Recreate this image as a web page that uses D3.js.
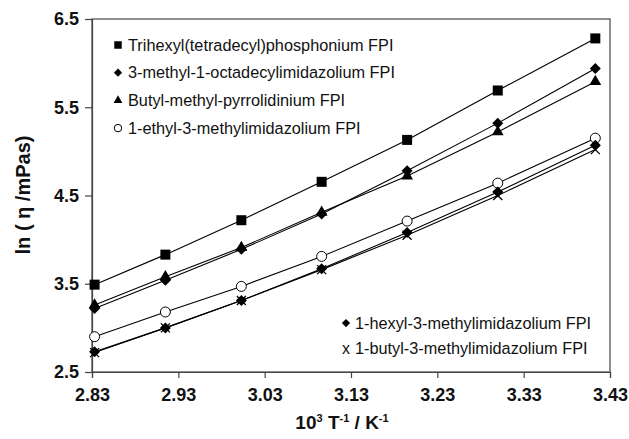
<!DOCTYPE html>
<html>
<head>
<meta charset="utf-8">
<script src="https://cdn.jsdelivr.net/npm/d3@7"></script>
<style>
  body { margin: 0; background: #fff; }
  text { font-family: "Liberation Sans", Arial, sans-serif; }
</style>
</head>
<body>
<div id="chart"></div>
<script>
// 10^3 / T for 353 ... 293 K
const invT = [2.833, 2.915, 3.003, 3.096, 3.195, 3.300, 3.413];

const seriesNames = [
  'Trihexyl(tetradecyl)phosphonium FPI',
  '3-methyl-1-octadecylimidazolium FPI',
  'Butyl-methyl-pyrrolidinium FPI',
  '1-ethyl-3-methylimidazolium FPI',
  '1-hexyl-3-methylimidazolium FPI',
  '1-butyl-3-methylimidazolium FPI'
];
const seriesMarkers = ['square', 'diamond', 'triangle', 'circle', 'diamond', 'cross'];

const phosphonium = [3.49, 3.83, 4.22, 4.655, 5.13, 5.69, 6.28];
const octadecyl   = [3.22, 3.54, 3.89, 4.29, 4.78, 5.32, 5.94];
const pyrrolidin  = [3.26, 3.58, 3.91, 4.31, 4.72, 5.22, 5.79];
const ethylmim    = [2.90, 3.18, 3.47, 3.81, 4.21, 4.64, 5.15];
const hexylmim    = [2.73, 3.00, 3.31, 3.67, 4.08, 4.54, 5.07];
const butylmim    = [2.72, 3.00, 3.31, 3.66, 4.05, 4.50, 5.02];

const xTicks = [2.83, 2.93, 3.03, 3.13, 3.23, 3.33, 3.43];
const yTicks = [2.5, 3.5, 4.5, 5.5, 6.5];

const seriesValues = [phosphonium, octadecyl, pyrrolidin, ethylmim, hexylmim, butylmim];

const width = 629, height = 439;
const margin = {top: 19, right: 19, bottom: 67, left: 92};

const svg = d3.select('#chart').append('svg')
  .attr('width', width)
  .attr('height', height);

const x = d3.scaleLinear().domain([2.83, 3.43]).range([margin.left, width - margin.right]);
const y = d3.scaleLinear().domain([2.5, 6.5]).range([height - margin.bottom, margin.top]);

// frame
svg.append('rect')
  .attr('x', x(2.83)).attr('y', y(6.5))
  .attr('width', x(3.43) - x(2.83)).attr('height', y(2.5) - y(6.5))
  .attr('fill', 'none').attr('stroke', '#444').attr('stroke-width', 1.2);

// axes
const xAxis = d3.axisBottom(x).tickValues(xTicks).tickFormat(d3.format('.2f')).tickSize(6).tickPadding(10);
const yAxis = d3.axisLeft(y).tickValues(yTicks).tickFormat(d3.format('.1f')).tickSize(7).tickPadding(6);

const xg = svg.append('g').attr('transform', `translate(0,${y(2.5)})`).call(xAxis);
const yg = svg.append('g').attr('transform', `translate(${x(2.83)},0)`).call(yAxis);
[xg, yg].forEach(g => {
  g.select('.domain').attr('stroke', '#444').attr('stroke-width', 1.2);
  g.selectAll('.tick line').attr('stroke', '#444').attr('stroke-width', 1.2);
  g.selectAll('.tick text')
    .attr('fill', '#111')
    .style('font-family', '"Liberation Sans", Arial, sans-serif')
    .style('font-size', '18px')
    .style('font-weight', 'bold');
});

// axis titles
const xt = svg.append('text')
  .attr('x', 342).attr('y', 429)
  .attr('text-anchor', 'middle')
  .style('font-size', '19px').style('font-weight', 'bold').attr('fill', '#111');
xt.append('tspan').text('10');
xt.append('tspan').attr('dy', -7).style('font-size', '11px').text('3');
xt.append('tspan').attr('dy', 7).text(' T');
xt.append('tspan').attr('dy', -7).style('font-size', '11px').text('-1');
xt.append('tspan').attr('dy', 7).text(' / K');
xt.append('tspan').attr('dy', -7).style('font-size', '11px').text('-1');

svg.append('text')
  .attr('transform', `translate(30,195) rotate(-90)`)
  .attr('text-anchor', 'middle')
  .style('font-size', '20px').style('font-weight', 'bold').attr('fill', '#111')
  .text('ln ( η /mPas)');

// marker drawing
function drawMarker(g, type, cx, cy, s) {
  if (type === 'square') {
    g.append('rect').attr('x', cx - 5 * s).attr('y', cy - 5 * s)
      .attr('width', 10 * s).attr('height', 10 * s).attr('fill', '#000');
  } else if (type === 'diamond') {
    const r = 5.5 * s;
    g.append('path')
      .attr('d', `M${cx},${cy - r}L${cx + r},${cy}L${cx},${cy + r}L${cx - r},${cy}Z`)
      .attr('fill', '#000');
  } else if (type === 'triangle') {
    g.append('path').attr('transform', `translate(${cx},${cy})`)
      .attr('d', d3.symbol().type(d3.symbolTriangle).size(60 * s * s)()).attr('fill', '#000');
  } else if (type === 'circle') {
    g.append('circle').attr('cx', cx).attr('cy', cy).attr('r', 5 * s)
      .attr('fill', '#fff').attr('stroke', '#000').attr('stroke-width', 1);
  } else if (type === 'cross') {
    const r = 4.5 * s;
    g.append('path')
      .attr('d', `M${cx - r},${cy - r}L${cx + r},${cy + r}M${cx - r},${cy + r}L${cx + r},${cy - r}`)
      .attr('stroke', '#000').attr('stroke-width', 1.3).attr('fill', 'none');
  }
}

const line = d3.line().x((d, i) => x(invT[i])).y(d => y(d));

const plot = svg.append('g');
seriesValues.forEach(vals => {
  plot.append('path').datum(vals)
    .attr('d', line)
    .attr('fill', 'none').attr('stroke', '#000').attr('stroke-width', 1.1);
});
const draworder = [3, 5, 4, 2, 1, 0];
draworder.forEach(si => {
  const g = plot.append('g');
  seriesValues[si].forEach((v, i) => drawMarker(g, seriesMarkers[si], x(invT[i]), y(v), 1));
});

// legends
const legTop = svg.append('g');
[0, 1, 2, 3].forEach((si, k) => {
  const ly = 45 + k * 27.7;
  drawMarker(legTop, seriesMarkers[si], 118, ly, 0.75);
  legTop.append('text').attr('x', 128).attr('y', ly).attr('dy', '0.35em')
    .style('font-size', '16.3px').attr('fill', '#111').text(seriesNames[si]);
});

const legBot = svg.append('g');
[4, 5].forEach((si, k) => {
  const ly = 323 + k * 25;
  if (seriesMarkers[si] === 'cross') {
    legBot.append('text').attr('x', 346).attr('y', ly).attr('dy', '0.35em')
      .attr('text-anchor', 'middle').style('font-size', '16px').attr('fill', '#111').text('x');
  } else {
    drawMarker(legBot, seriesMarkers[si], 346, ly, 0.75);
  }
  legBot.append('text').attr('x', 355).attr('y', ly).attr('dy', '0.35em')
    .style('font-size', '16.3px').attr('fill', '#111').text(seriesNames[si]);
});
</script>
</body>
</html>
